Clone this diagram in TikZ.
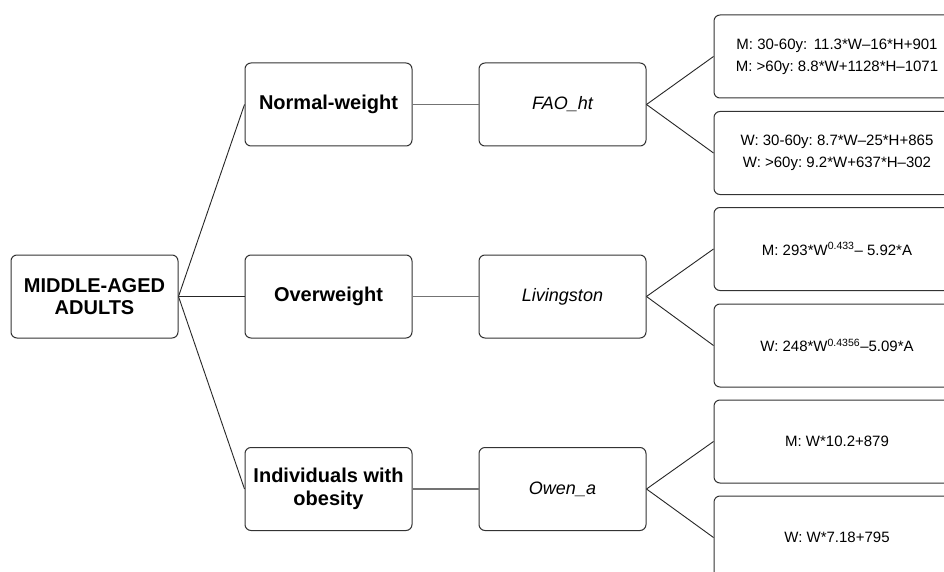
\documentclass[tikz,border=0pt]{standalone}
\usepackage{fontspec}
\setmainfont{Liberation Sans}
\begin{document}
\begin{tikzpicture}[x=1pt,y=-1pt,
  box/.style={draw=black!80, line width=1pt, rounded corners=6pt, fill=white, inner sep=2pt, align=center},
  catbox/.style={box, minimum width=167pt, minimum height=83pt, font=\fontsize{20}{22.5}\selectfont\bfseries},
  refbox/.style={box, minimum width=167pt, minimum height=83pt, font=\fontsize{18}{21}\selectfont\itshape},
  eqbox/.style={box, minimum width=246pt, minimum height=83pt, font=\fontsize{15}{22}\selectfont},
  link/.style={draw=black!85, line width=0.9pt},
  hlink/.style={draw=black!55, line width=1.6pt}]
\clip (0,0) rectangle (944,572);
\fill[white] (0,0) rectangle (944,572);
% root
\node[catbox] (root) at (94.5,296.5) {MIDDLE-AGED\\ADULTS};
% level 1
\node[catbox] (nw) at (328.5,104.5) {Normal-weight};
\node[catbox] (ow) at (328.5,296.5) {Overweight};
\node[catbox] (ob) at (328.5,489) {Individuals with\\obesity};
% level 2
\node[refbox] (fao) at (562.5,104.5) {FAO\_ht};
\node[refbox] (liv) at (562.5,296.5) {Livingston};
\node[refbox] (owe) at (562.5,489) {Owen\_a};
% level 3
\node[eqbox] (e1) at (837,56.5) {M: 30-60y:\ \,11.3*W--16*H+901\\M: >60y:\ 8.8*W+1128*H--1071};
\node[eqbox] (e2) at (837,153) {W: 30-60y:\ 8.7*W--25*H+865\\W: >60y:\ 9.2*W+637*H--302};
\node[eqbox] (e3) at (837,249) {M: 293*W\textsuperscript{0.433}-- 5.92*A};
\node[eqbox] (e4) at (837,345.5) {W: 248*W\textsuperscript{0.4356}--5.09*A};
\node[eqbox] (e5) at (837,441.5) {M: W*10.2+879};
\node[eqbox] (e6) at (837,537.5) {W: W*7.18+795};
% connectors
\draw[link] (root.east) -- (nw.west);
\draw[link] (root.east) -- (ow.west);
\draw[link] (root.east) -- (ob.west);
\draw[hlink] (nw.east) -- (fao.west);
\draw[hlink] (ow.east) -- (liv.west);
\draw[hlink] (ob.east) -- (owe.west);
\draw[link] (fao.east) -- (e1.west);
\draw[link] (fao.east) -- (e2.west);
\draw[link] (liv.east) -- (e3.west);
\draw[link] (liv.east) -- (e4.west);
\draw[link] (owe.east) -- (e5.west);
\draw[link] (owe.east) -- (e6.west);
\end{tikzpicture}
\end{document}
